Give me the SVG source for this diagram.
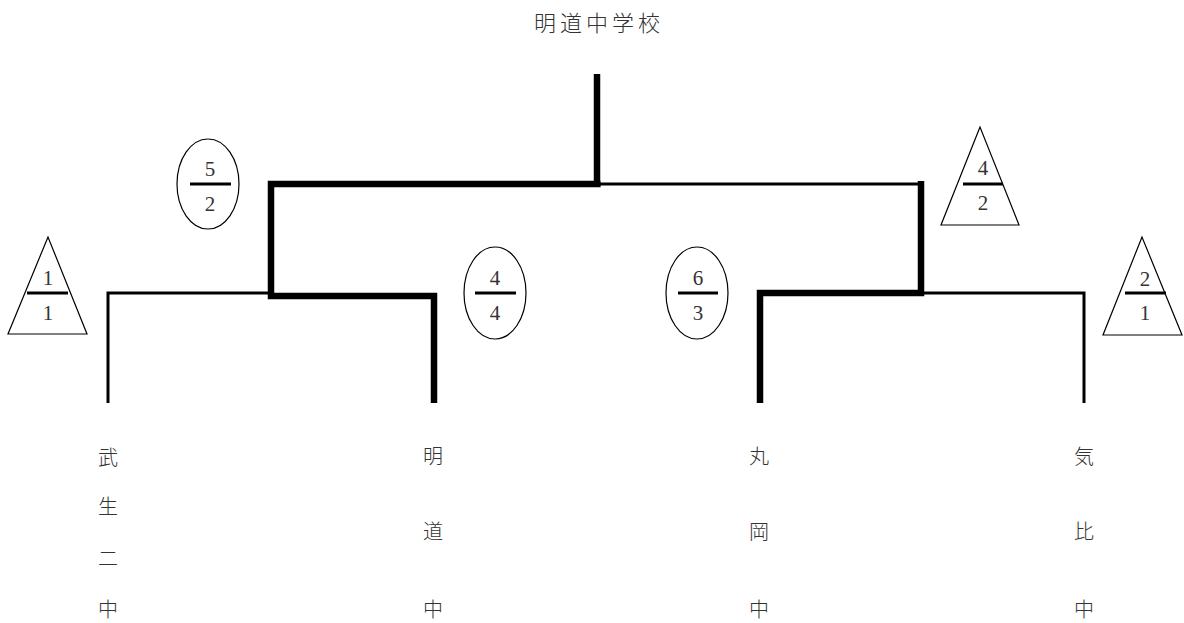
<svg xmlns="http://www.w3.org/2000/svg" width="1184" height="623" viewBox="0 0 1184 623">
<style>
.thick{fill:none;stroke:#000;stroke-width:6.5;stroke-linejoin:miter;stroke-linecap:butt}
.thin{fill:none;stroke:#000;stroke-width:3;stroke-linejoin:miter}
.shape{fill:#fff;stroke:#000;stroke-width:1.2}
.bar{stroke:#000;stroke-width:3}
.num{font-family:"Liberation Serif","DejaVu Serif",serif;font-size:21px;text-anchor:middle;fill:#333}
.jp{font-family:"Noto Sans CJK JP","Noto Sans CJK SC",sans-serif;font-size:20px;font-weight:300;text-anchor:middle;dominant-baseline:central;fill:#333}
</style>
<rect width="1184" height="623" fill="#fff"/>
<g id="connectors">
<path class="thin" d="M597 184 H921"/>
<path class="thin" d="M108 403 V293 H271"/>
<path class="thin" d="M921 293 H1084 V403"/>
<path class="thick" d="M597 74 V187"/>
<path class="thick" d="M600.5 184 H271 V296 H434 V403"/>
<path class="thick" d="M921 181 V293 H760 V403"/>
</g>
<g id="title">
<text class="jp" x="597" y="21" style="font-size:22px;letter-spacing:4px" dx="2">明道中学校</text>
</g>
<g id="score-left-top">
<ellipse class="shape" cx="208" cy="184" rx="31" ry="45"/>
<line class="bar" x1="190" y1="184" x2="231" y2="184"/>
<text class="num" x="210" y="176">5</text>
<text class="num" x="210" y="211">2</text>
</g>
<g id="score-left-outer">
<polygon class="shape" points="48,237 8,334 87,334"/>
<line class="bar" x1="27" y1="293" x2="68" y2="293"/>
<text class="num" x="48" y="285">1</text>
<text class="num" x="48" y="320">1</text>
</g>
<g id="score-left-inner">
<ellipse class="shape" cx="495" cy="293" rx="31" ry="46"/>
<line class="bar" x1="475" y1="293" x2="516" y2="293"/>
<text class="num" x="495" y="285">4</text>
<text class="num" x="495" y="320">4</text>
</g>
<g id="score-right-inner">
<ellipse class="shape" cx="697" cy="293" rx="31" ry="46"/>
<line class="bar" x1="678" y1="293" x2="718" y2="293"/>
<text class="num" x="698" y="285">6</text>
<text class="num" x="698" y="320">3</text>
</g>
<g id="score-right-top">
<polygon class="shape" points="980,127 941,225 1019,225"/>
<line class="bar" x1="963" y1="184" x2="1003" y2="184"/>
<text class="num" x="983" y="175">4</text>
<text class="num" x="983" y="210">2</text>
</g>
<g id="score-right-outer">
<polygon class="shape" points="1142,237 1103,335 1182,335"/>
<line class="bar" x1="1125" y1="293" x2="1166" y2="293"/>
<text class="num" x="1145" y="286">2</text>
<text class="num" x="1145" y="320">1</text>
</g>
<g id="team-takefu2">
<text class="jp" x="108" y="456">武</text>
<text class="jp" x="108" y="505">生</text>
<text class="jp" x="108" y="557">二</text>
<text class="jp" x="108" y="608">中</text>
</g>
<g id="team-meido">
<text class="jp" x="433" y="455">明</text>
<text class="jp" x="433" y="530">道</text>
<text class="jp" x="433" y="608">中</text>
</g>
<g id="team-maruoka">
<text class="jp" x="759" y="455">丸</text>
<text class="jp" x="759" y="530">岡</text>
<text class="jp" x="759" y="608">中</text>
</g>
<g id="team-kehi">
<text class="jp" x="1084" y="455">気</text>
<text class="jp" x="1084" y="530">比</text>
<text class="jp" x="1084" y="608">中</text>
</g>
</svg>
